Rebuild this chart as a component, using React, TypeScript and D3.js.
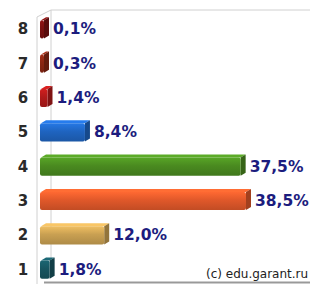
import * as d3 from 'd3';

const categories = ['8', '7', '6', '5', '4', '3', '2', '1'];
const values = [0.1, 0.3, 1.4, 8.4, 37.5, 38.5, 12.0, 1.8];
const labels = ['0,1%', '0,3%', '1,4%', '8,4%', '37,5%', '38,5%', '12,0%', '1,8%'];
const colors = ['#7a1010', '#8a2612', '#b01a1a', '#1f64c0', '#4a8a20', '#e0582a', '#c9a052', '#175560'];

const width = 310,
	height = 284;

const depth = { dx: 5, dy: -3 };
const minBar = 4;

export default function App() {
	const x = d3.scaleLinear().domain([0, 38.5]).range([40, 246]);
	const y = d3.scaleBand().domain(categories).range([12, 287]).paddingInner(0.47).paddingOuter(0.24);
	const bh = y.bandwidth();

	return (
		<svg
			width={width}
			height={height}
			style={{ position: 'absolute', left: 0, top: 0, background: '#fff' }}
			fontFamily="DejaVu Sans, sans-serif"
		>
			<defs>
				{colors.map((c, i) => (
					<linearGradient key={i} id={`g${i}`} x1="0" x2="0" y1="0" y2="1">
						<stop offset="0" stopColor={d3.color(c)!.brighter(0.5).toString()} />
						<stop offset="0.45" stopColor={c} />
						<stop offset="1" stopColor={d3.color(c)!.darker(0.4).toString()} />
					</linearGradient>
				))}
			</defs>

			{/* title, only its lower edge shows */}
			<text x={170} y={-1} textAnchor="middle" fontSize={12} fill="#3a9a3a" opacity={0.6}>
				(Московская область)
			</text>

			{/* walls */}
			<g stroke="#d0d0d0" fill="none">
				<line x1={51} x2={width} y1={10} y2={10} />
				<line x1={51} x2={51} y1={10} y2={277} />
				<line x1={37} x2={51} y1={17} y2={10} />
				<line x1={37} x2={37} y1={17} y2={284} />
			</g>
			<line x1={44} x2={width} y1={282.5} y2={282.5} stroke="#999" strokeWidth={2} />

			{categories.map((c, i) => {
				const y0 = y(c)!;
				const x0 = x(0);
				const x1 = Math.max(x(values[i]), x0 + minBar);
				const base = d3.color(colors[i])!;
				return (
					<g key={c}>
						<text
							x={23}
							y={y0 + bh / 2}
							textAnchor="middle"
							dominantBaseline="central"
							fontSize={15}
							fontWeight="bold"
							fill="#2a2a2a"
						>
							{c}
						</text>
						<polygon
							points={`${x0 + 1},${y0} ${x0 + 1 + depth.dx},${y0 + depth.dy} ${x1 + depth.dx},${y0 + depth.dy} ${x1},${y0}`}
							fill={base.brighter(0.6).toString()}
						/>
						<polygon
							points={`${x1},${y0} ${x1 + depth.dx},${y0 + depth.dy} ${x1 + depth.dx},${y0 + bh + depth.dy} ${x1},${y0 + bh}`}
							fill={base.darker(0.9).toString()}
						/>
						<rect x={x0} y={y0} width={x1 - x0} height={bh} rx={2} fill={`url(#g${i})`} />
						<text
							x={x1 + depth.dx + 4}
							y={y0 + bh / 2}
							dominantBaseline="central"
							fontSize={15.5}
							fontWeight="bold"
							fill="#1c1c7e"
						>
							{labels[i]}
						</text>
					</g>
				);
			})}

			<text x={206} y={278} fontSize={12} fill="#222">
				(c) edu.garant.ru
			</text>
		</svg>
	);
}
